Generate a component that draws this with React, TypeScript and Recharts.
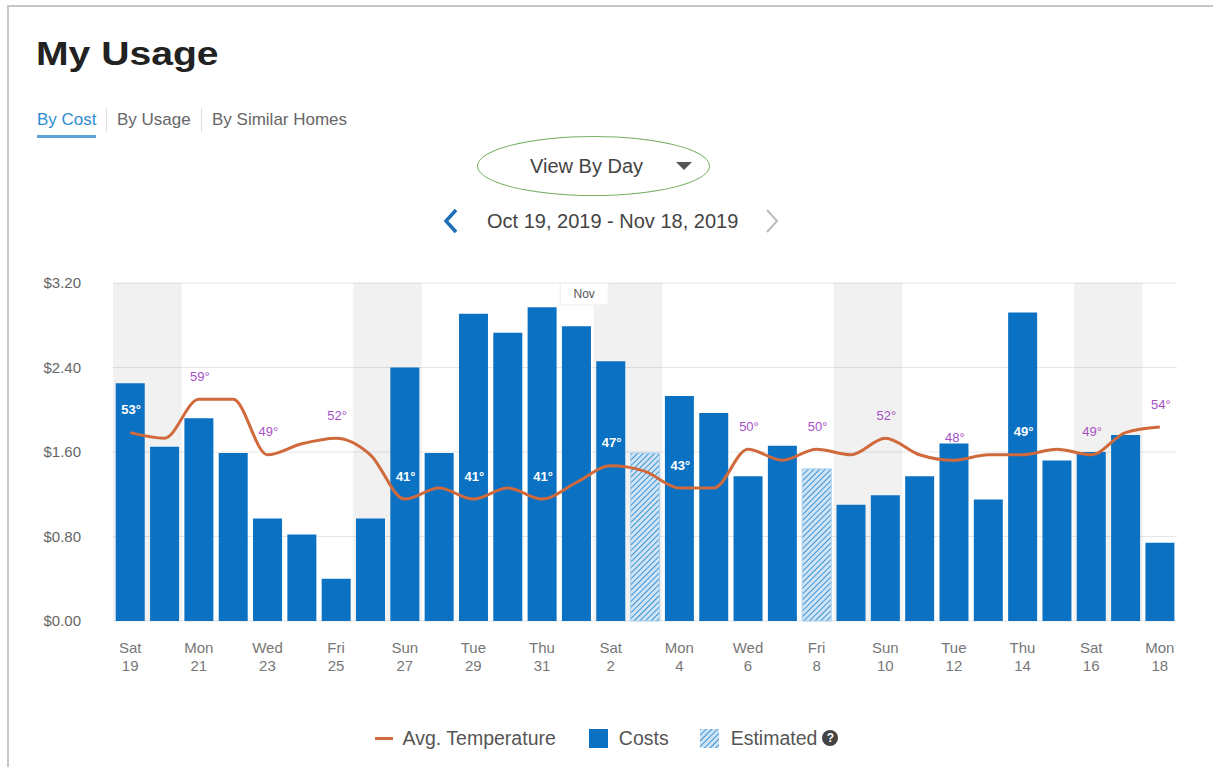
import {
  ComposedChart,
  Bar,
  Line,
  XAxis,
  YAxis,
  CartesianGrid,
  ReferenceArea,
  ReferenceLine,
  Legend,
  Cell
} from 'recharts';

const dayNames = [
  'Sat', 'Sun', 'Mon', 'Tue', 'Wed', 'Thu', 'Fri',
  'Sat', 'Sun', 'Mon', 'Tue', 'Wed', 'Thu', 'Fri',
  'Sat', 'Sun', 'Mon', 'Tue', 'Wed', 'Thu', 'Fri',
  'Sat', 'Sun', 'Mon', 'Tue', 'Wed', 'Thu', 'Fri',
  'Sat', 'Sun', 'Mon'
];
const dayDates = [
  19, 20, 21, 22, 23, 24, 25, 26, 27, 28, 29, 30, 31,
  1, 2, 3, 4, 5, 6, 7, 8, 9, 10, 11, 12, 13, 14, 15, 16, 17, 18
];
const costs = [
  2.25, 1.65, 1.92, 1.59, 0.97, 0.82, 0.4, 0.97, 2.4, 1.59, 2.91, 2.73, 2.97,
  2.79, 2.46, 1.59, 2.13, 1.97, 1.37, 1.66, 1.44, 1.1, 1.19, 1.37, 1.68, 1.15,
  2.92, 1.52, 1.6, 1.76, 0.74
];
const avgTemps = [
  53, 52, 59, 59, 49, 51, 52, 49, 41, 43, 41, 43, 41,
  44, 47, 46, 43, 43, 50, 48, 50, 49, 52, 49, 48, 49, 49, 50, 49, 53, 54
];
const estimatedDays = ['Sun 3', 'Fri 8'];
const costTicks = [0, 0.8, 1.6, 2.4, 3.2];
const monthStart = 'Fri 1';
const monthLabel = 'Nov';

const data = dayNames.map((d, i) => ({
  day: `${d} ${dayDates[i]}`,
  cost: costs[i],
  temp: avgTemps[i]
}));

const weekends = dayNames
  .map((d, i) => (d === 'Sat' && i + 1 < data.length ? [data[i].day, data[i + 1].day] : null))
  .filter(Boolean) as string[][];

const COST_MAX = 3.2;
const TEMP_DOMAIN = [19, 80];
const PLOT_TOP = 13;
const PLOT_H = 338;

const BLUE = '#0b71c3';
const ORANGE = '#d0693b';
const FONT = '"Liberation Sans", Arial, Helvetica, sans-serif';

const DayTick = (props: any) => {
  const { x, y, payload } = props;
  const [name, date] = String(payload.value).split(' ');
  return (
    <text x={x} y={y} textAnchor="middle" fill="#777" fontSize={15} fontFamily={FONT}>
      <tspan x={x} dy={24}>{name}</tspan>
      <tspan x={x} dy={18}>{date}</tspan>
    </text>
  );
};

const renderTempLabel = (props: any) => {
  const { cx, cy, index, payload } = props;
  if (index % 2 !== 0 || cx == null) return <g key={`t${index}`} />;
  const labelY = cy - 23;
  const barTop = PLOT_TOP + PLOT_H * (1 - payload.cost / COST_MAX);
  const inside = labelY > barTop;
  return (
    <text
      key={`t${index}`}
      x={cx + 1}
      y={labelY}
      dy={4.5}
      textAnchor="middle"
      fontSize={13}
      fontFamily={FONT}
      fontWeight={inside ? 600 : 400}
      fill={inside ? '#ffffff' : '#a64fc6'}
    >
      {payload.temp}°
    </text>
  );
};

const renderMonthTag = (props: any) => {
  const vb = props.viewBox || {};
  const x = vb.x ?? 0;
  const y = vb.y ?? 0;
  return (
    <g>
      <rect x={x + 1} y={y} width={48} height={22} fill="#fff" stroke="#ececec" />
      <text x={x + 25} y={y + 11} dy={4} textAnchor="middle" fontSize={12} fill="#555" fontFamily={FONT}>
        {monthLabel}
      </text>
    </g>
  );
};

const LegendBox = () => (
  <div
    style={{
      height: 86,
      boxSizing: 'border-box',
      paddingTop: 28,
      display: 'flex',
      justifyContent: 'center',
      alignItems: 'center',
      fontFamily: FONT,
      fontSize: 19.5,
      color: '#555',
      lineHeight: '24px'
    }}
  >
    <span style={{ width: 18, height: 3, background: ORANGE, marginRight: 10 }} />
    <span style={{ marginRight: 33 }}>Avg. Temperature</span>
    <span style={{ width: 19, height: 19, background: BLUE, marginRight: 11 }} />
    <span style={{ marginRight: 31 }}>Costs</span>
    <svg width={19} height={19} style={{ marginRight: 12 }}>
      <defs>
        <pattern id="legStripe" width="4" height="4" patternUnits="userSpaceOnUse" patternTransform="rotate(45)">
          <rect width="4" height="4" fill="#cfe5f6" />
          <line x1="0" y1="0" x2="0" y2="4" stroke="#3f93d4" strokeWidth="2" />
        </pattern>
      </defs>
      <rect width={19} height={19} fill="url(#legStripe)" />
    </svg>
    <span style={{ marginRight: 5 }}>Estimated</span>
    <span
      style={{
        width: 16,
        height: 16,
        borderRadius: 8,
        background: '#444',
        color: '#fff',
        fontSize: 12,
        fontWeight: 700,
        lineHeight: '16px',
        textAlign: 'center'
      }}
    >
      ?
    </span>
  </div>
);

export default function App() {
  return (
    <div
      style={{
        position: 'relative',
        width: 1213,
        height: 767,
        background: '#fff',
        fontFamily: FONT,
        overflow: 'hidden'
      }}
    >
      <style>{'body{margin:0}'}</style>
      <div
        style={{
          position: 'absolute',
          left: 7,
          top: 5,
          width: 1400,
          height: 1000,
          borderTop: '2px solid #c6c6c6',
          borderLeft: '2px solid #c6c6c6'
        }}
      />

      <div
        style={{
          position: 'absolute',
          left: 36,
          top: 35,
          fontSize: 34,
          lineHeight: '36px',
          fontWeight: 700,
          color: '#222',
          transform: 'scaleX(1.15)',
          transformOrigin: 'left'
        }}
      >
        My Usage
      </div>

      <div style={{ position: 'absolute', left: 37, top: 110, fontSize: 17, lineHeight: '20px', color: '#2e8ccf' }}>
        By Cost
      </div>
      <div style={{ position: 'absolute', left: 37, top: 135, width: 59, height: 3, background: '#5ba3d9' }} />
      <div style={{ position: 'absolute', left: 106, top: 108, width: 1, height: 24, background: '#ddd' }} />
      <div style={{ position: 'absolute', left: 117, top: 110, fontSize: 17, lineHeight: '20px', color: '#666' }}>
        By Usage
      </div>
      <div style={{ position: 'absolute', left: 201, top: 108, width: 1, height: 24, background: '#ddd' }} />
      <div style={{ position: 'absolute', left: 212, top: 110, fontSize: 17, lineHeight: '20px', color: '#666' }}>
        By Similar Homes
      </div>

      <div
        style={{
          position: 'absolute',
          left: 477,
          top: 136,
          width: 233,
          height: 60,
          boxSizing: 'border-box',
          border: '1.5px solid #76ae64',
          borderRadius: '50%'
        }}
      />
      <div style={{ position: 'absolute', left: 530, top: 154, fontSize: 20, lineHeight: '24px', color: '#444' }}>
        View By Day
      </div>
      <svg style={{ position: 'absolute', left: 676, top: 162 }} width={17} height={9}>
        <polygon points="0,0 16,0 8,8" fill="#555" />
      </svg>

      <svg style={{ position: 'absolute', left: 440, top: 206 }} width={22} height={30}>
        <polyline points="16,4 6,15 16,26" fill="none" stroke="#1d6fb8" strokeWidth={3.5} />
      </svg>
      <div style={{ position: 'absolute', left: 487, top: 209, fontSize: 20, lineHeight: '24px', color: '#444' }}>
        Oct 19, 2019 - Nov 18, 2019
      </div>
      <svg style={{ position: 'absolute', left: 762, top: 206 }} width={22} height={30}>
        <polyline points="5,4 15,15 5,26" fill="none" stroke="#bbb" strokeWidth={2} />
      </svg>

      <div style={{ position: 'absolute', left: 0, top: 270 }}>
        <ComposedChart
          width={1213}
          height={497}
          data={data}
          margin={{ top: PLOT_TOP, right: 36, left: 0, bottom: 0 }}
          barCategoryGap="8%"
        >
          <defs>
            <pattern id="estStripe" width="4" height="4" patternUnits="userSpaceOnUse" patternTransform="rotate(45)">
              <rect width="4" height="4" fill="#cfe5f6" />
              <line x1="0" y1="0" x2="0" y2="4" stroke="#3f93d4" strokeWidth="2" />
            </pattern>
          </defs>
          <CartesianGrid vertical={false} stroke="#e6e6e6" />
          {weekends.map(([a, b]) => (
            <ReferenceArea key={a} x1={a} x2={b} fill="#000" fillOpacity={0.055} stroke="none" ifOverflow="visible" />
          ))}
          <XAxis
            dataKey="day"
            interval={1}
            axisLine={false}
            tickLine={false}
            height={60}
            tick={<DayTick />}
          />
          <YAxis
            width={113}
            domain={[0, COST_MAX]}
            ticks={costTicks}
            axisLine={false}
            tickLine={false}
            tickMargin={26}
            tick={{ fill: '#666', fontSize: 15, fontFamily: FONT }}
            tickFormatter={(v) => `$${Number(v).toFixed(2)}`}
          />
          <YAxis yAxisId="temp" hide domain={TEMP_DOMAIN} />
          <Bar dataKey="cost" name="Costs" fill={BLUE} isAnimationActive={false}>
            {data.map((d) => (
              <Cell
                key={d.day}
                fill={estimatedDays.includes(d.day) ? 'url(#estStripe)' : BLUE}
                stroke={estimatedDays.includes(d.day) ? '#a9d0ee' : 'none'}
              />
            ))}
          </Bar>
          <Line
            yAxisId="temp"
            type="monotone"
            dataKey="temp"
            name="Avg. Temperature"
            stroke={ORANGE}
            strokeWidth={3}
            dot={renderTempLabel}
            activeDot={false}
            isAnimationActive={false}
          />
          <ReferenceLine x={monthStart} position="start" stroke="none" label={renderMonthTag} />
          <Legend
            verticalAlign="bottom"
            wrapperStyle={{ left: 0, width: 1213, bottom: 0 }}
            content={() => <LegendBox />}
          />
        </ComposedChart>
      </div>
    </div>
  );
}
